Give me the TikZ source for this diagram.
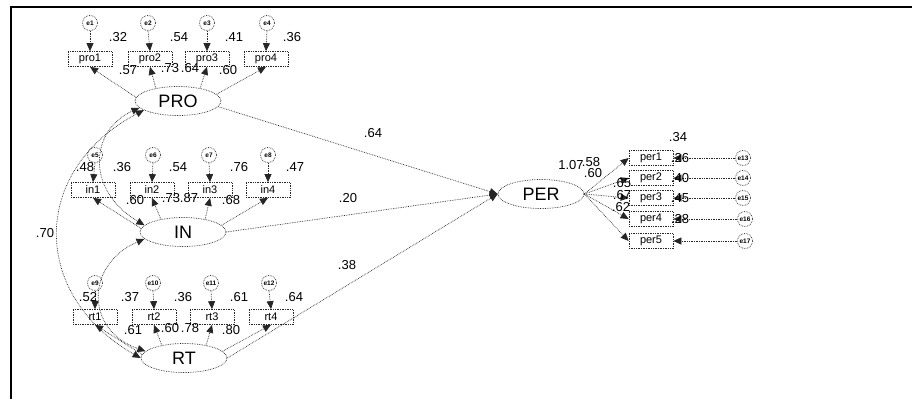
\documentclass[tikz,border=0pt]{standalone}
\usepackage{fontspec}
\setmainfont{Liberation Sans}
\usetikzlibrary{shapes.geometric,arrows.meta}
\begin{document}
\begin{tikzpicture}[x=1pt,y=-1pt,
  ln/.style={draw=black!85, line width=0.7pt, densely dotted},
  lat/.style={ellipse, ln, minimum width=86pt, minimum height=29pt, inner sep=0pt, font=\fontsize{18}{18}\selectfont},
  obs/.style={rectangle, ln, minimum width=44pt, minimum height=15pt, inner sep=0pt, font=\fontsize{11}{11}\selectfont},
  err/.style={circle, ln, minimum size=15pt, inner sep=0pt, font=\fontsize{6.5}{6.5}\selectfont\bfseries},
  lab/.style={inner sep=0pt, font=\fontsize{13}{13}\selectfont},
  arr/.style={ln, -{Triangle[length=8pt,width=7pt]}},
  cov/.style={ln, {Triangle[length=8pt,width=7pt]}-{Triangle[length=8pt,width=7pt]}}
]
\useasboundingbox (0,0) rectangle (912,399);
\draw[line width=1.8pt] (11,399) -- (11,7) -- (912,7);

% latent
\node[lat] (PRO) at (178,101) {PRO};
\node[lat] (IN) at (183,232) {IN};
\node[lat] (RT) at (184,358) {RT};
\node[lat] (PER) at (541,194) {PER};

% PRO indicators
\node[obs] (pro1) at (90,59) {pro1};
\node[obs] (pro2) at (150,59) {pro2};
\node[obs] (pro3) at (207,59) {pro3};
\node[obs] (pro4) at (266,59) {pro4};
\node[err] (e1) at (90,23) {e1};
\node[err] (e2) at (148,23) {e2};
\node[err] (e3) at (207,23) {e3};
\node[err] (e4) at (267,23) {e4};

% IN indicators
\node[obs] (in1) at (93,190) {in1};
\node[obs] (in2) at (152,190) {in2};
\node[obs] (in3) at (210,190) {in3};
\node[obs] (in4) at (268,190) {in4};
\node[err] (e5) at (95,155) {e5};
\node[err] (e6) at (153,155) {e6};
\node[err] (e7) at (209,155) {e7};
\node[err] (e8) at (268,155) {e8};

% RT indicators
\node[obs] (rt1) at (95,317) {rt1};
\node[obs] (rt2) at (154,317) {rt2};
\node[obs] (rt3) at (212,317) {rt3};
\node[obs] (rt4) at (271,317) {rt4};
\node[err] (e9) at (95,283) {e9};
\node[err] (e10) at (153,283) {e10};
\node[err] (e11) at (211,283) {e11};
\node[err] (e12) at (269,283) {e12};

% PER indicators
\node[obs] (per1) at (651,158) {per1};
\node[obs] (per2) at (651,178) {per2};
\node[obs] (per3) at (651,198) {per3};
\node[obs] (per4) at (651,219) {per4};
\node[obs] (per5) at (651,241) {per5};
\node[err] (e13) at (743,158) {e13};
\node[err] (e14) at (743,178) {e14};
\node[err] (e15) at (743,198) {e15};
\node[err] (e16) at (745,219) {e16};
\node[err] (e17) at (745,241) {e17};

% error arrows
\foreach \e/\o in {e1/pro1,e2/pro2,e3/pro3,e4/pro4,e5/in1,e6/in2,e7/in3,e8/in4,e9/rt1,e10/rt2,e11/rt3,e12/rt4}
  \draw[arr] (\e.south) -- (\o.north);
\foreach \e/\o in {e13/per1,e14/per2,e15/per3,e16/per4,e17/per5}
  \draw[arr] (\e.west) -- (\o.east);

% loadings
\draw[arr] (PRO.175) -- (pro1.south);
\draw[arr] (PRO.150) -- (pro2.south);
\draw[arr] (PRO.30) -- (pro3.south);
\draw[arr] (PRO.10) -- (pro4.south);
\draw[arr] (IN.175) -- (in1.south);
\draw[arr] (IN.150) -- (in2.south);
\draw[arr] (IN.30) -- (in3.south);
\draw[arr] (IN.10) -- (in4.south);
\draw[arr] (RT.175) -- (rt1.south);
\draw[arr] (RT.150) -- (rt2.south);
\draw[arr] (RT.30) -- (rt3.south);
\draw[arr] (RT.10) -- (rt4.south);
\foreach \o in {per1,per2,per3,per4,per5}
  \draw[arr] (PER.east) -- (\o.west);

% structural
\draw[arr] (PRO.-8) -- (PER.west);
\draw[arr] (IN.east) -- (PER.west);
\draw[arr] (RT.east) -- (PER.west);

% covariances
\draw[cov] (PRO.190) .. controls (90,130) and (85,190) .. (IN.170);
\draw[cov] (IN.190) .. controls (85,265) and (85,330) .. (RT.170);
\draw[cov] (PRO.195) .. controls (30,170) and (30,295) .. (RT.180);

% labels
\node[lab] (l70) at (45,233) {.70};
\node[lab] (l32) at (118,37) {.32};
\node[lab] (l54) at (179,37) {.54};
\node[lab] (l41) at (234,37) {.41};
\node[lab] (l36) at (292,37) {.36};
\node[lab] (l57) at (128,70) {.57};
\node[lab] (l73) at (170,68) {.73};
\node[lab] (l64) at (190,68) {.64};
\node[lab] (l60) at (228,70) {.60};

\node[lab] (l48) at (85,167) {.48};
\node[lab] (l36b) at (122,167) {.36};
\node[lab] (l54b) at (178,167) {.54};
\node[lab] (l76) at (239,167) {.76};
\node[lab] (l47) at (295,167) {.47};
\node[lab] (l60b) at (135,200) {.60};
\node[lab] (l73b) at (171,198) {.73};
\node[lab] (l87) at (189,198) {.87};
\node[lab] (l68) at (231,200) {.68};

\node[lab] (l52) at (88,297) {.52};
\node[lab] (l37) at (130,297) {.37};
\node[lab] (l36c) at (183,297) {.36};
\node[lab] (l61) at (239,297) {.61};
\node[lab] (l64c) at (294,297) {.64};
\node[lab] (l61b) at (133,330) {.61};
\node[lab] (l60c) at (170,328) {.60};
\node[lab] (l78) at (190,328) {.78};
\node[lab] (l80) at (231,330) {.80};

\node[lab] (s64) at (373,133) {.64};
\node[lab] (s20) at (348,198) {.20};
\node[lab] (s38) at (347,265) {.38};

\node[lab] (l107) at (571,165) {1.07};
\node[lab] (l58) at (591,162) {.58};
\node[lab] (l60d) at (593,173) {.60};
\node[lab] (l65) at (622,183) {.65};
\node[lab] (l67) at (622,195) {.67};
\node[lab] (l62) at (621,207) {.62};
\node[lab] (l34) at (678,137) {.34};
\node[lab] (l26) at (680,158) {.26};
\node[lab] (l40) at (680,178) {.40};
\node[lab] (l45) at (680,198) {.45};
\node[lab] (l28) at (680,219) {.28};
\end{tikzpicture}
\end{document}
